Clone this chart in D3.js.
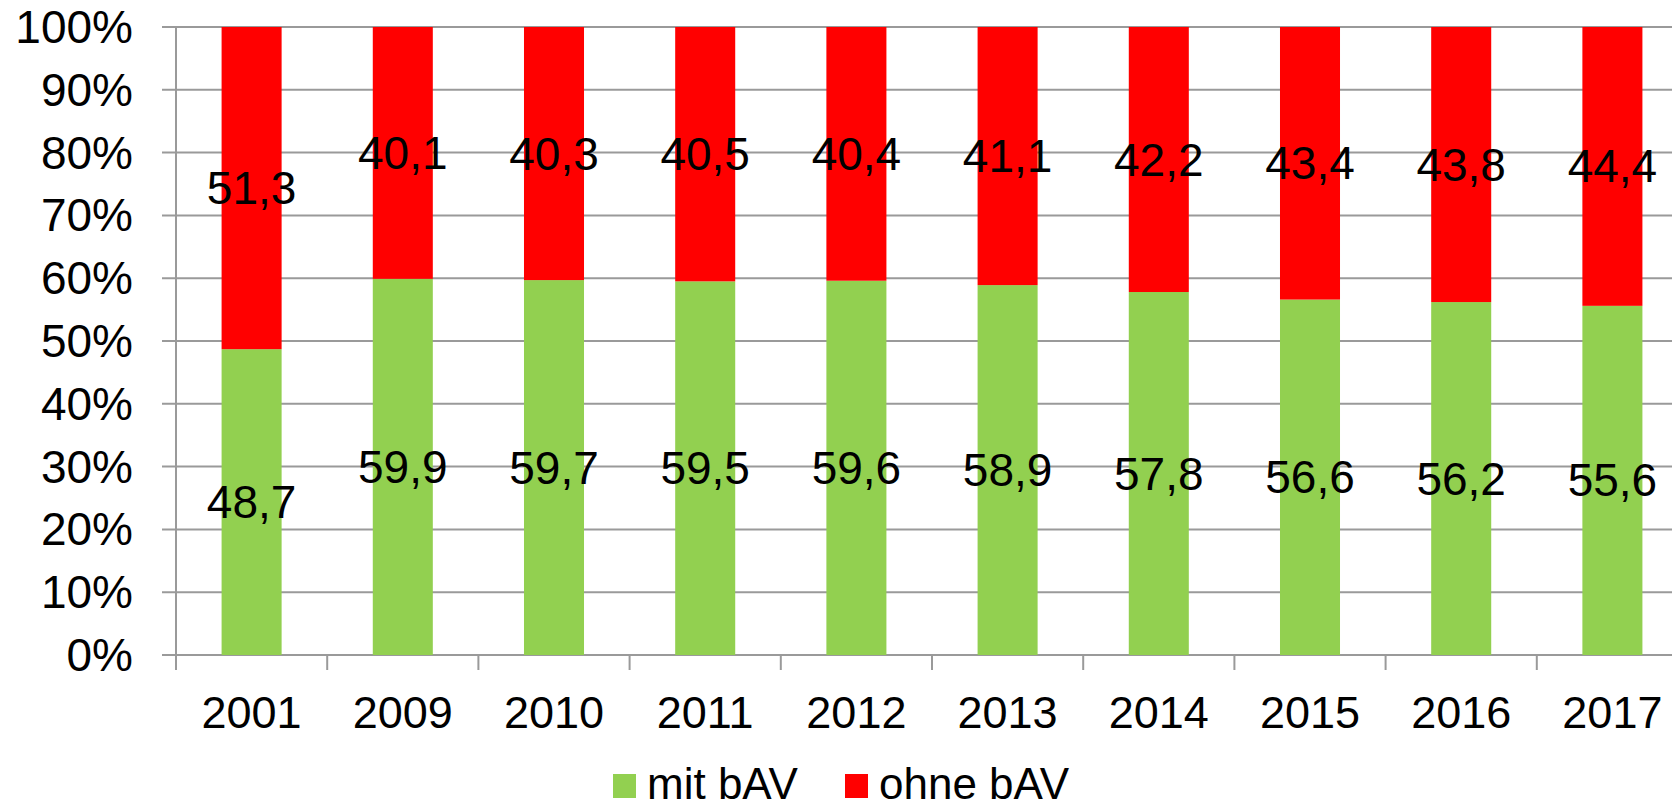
<!DOCTYPE html>
<html>
<head>
<meta charset="utf-8">
<script src="https://cdn.jsdelivr.net/npm/d3@7"></script>
<style>
  html, body { margin: 0; padding: 0; background: #fff; overflow: hidden; }
  text { font-family: "Liberation Sans", Arial, sans-serif; fill: #000; }
</style>
</head>
<body>
<svg id="chart" width="1672" height="809"></svg>
<script>
const years = ["2001","2009","2010","2011","2012","2013","2014","2015","2016","2017"];
const mitBAV  = [48.7, 59.9, 59.7, 59.5, 59.6, 58.9, 57.8, 56.6, 56.2, 55.6];
const ohneBAV = [51.3, 40.1, 40.3, 40.5, 40.4, 41.1, 42.2, 43.4, 43.8, 44.4];
const yTicks = [0, 10, 20, 30, 40, 50, 60, 70, 80, 90, 100];
const seriesNames = ["mit bAV", "ohne bAV"];
const colors = ["#92D050", "#FF0000"];

const svg = d3.select("#chart");
const pLeft = 176, pRight = 1688, pTop = 27, pBottom = 655;

const x = d3.scaleBand().domain(years).range([pLeft, pRight])
  .paddingInner(0.603).paddingOuter(0.3015);
const y = d3.scaleLinear().domain([0, 100]).range([pBottom, pTop]);

// gridlines
svg.append("g").selectAll("line").data(yTicks).join("line")
  .attr("x1", pLeft - 14).attr("x2", 1672)
  .attr("y1", d => y(d)).attr("y2", d => y(d))
  .attr("stroke", "#9a9a9a").attr("stroke-width", 2);

// y axis line
svg.append("line").attr("x1", pLeft).attr("x2", pLeft)
  .attr("y1", pTop).attr("y2", pBottom + 15)
  .attr("stroke", "#9a9a9a").attr("stroke-width", 2);

// x tick marks at band boundaries
const step = x.step();
const boundaries = years.map((d, i) => pLeft + (i + 1) * step);
svg.append("g").selectAll("line").data(boundaries).join("line")
  .attr("x1", d => d).attr("x2", d => d)
  .attr("y1", pBottom).attr("y2", pBottom + 15)
  .attr("stroke", "#9a9a9a").attr("stroke-width", 2);

// y tick labels
svg.append("g").selectAll("text").data(yTicks).join("text")
  .attr("x", 133).attr("y", d => y(d))
  .attr("text-anchor", "end").attr("dominant-baseline", "central")
  .attr("font-size", 46)
  .text(d => d + "%");

// x labels
svg.append("g").selectAll("text").data(years).join("text")
  .attr("x", d => x(d) + x.bandwidth() / 2).attr("y", 728)
  .attr("text-anchor", "middle").attr("font-size", 45)
  .text(d => d);

// bars
const stacks = years.map((yr, i) => ({
  yr, segs: [
    { y0: 0, y1: mitBAV[i], v: mitBAV[i], c: colors[0] },
    { y0: mitBAV[i], y1: mitBAV[i] + ohneBAV[i], v: ohneBAV[i], c: colors[1] }
  ]
}));
const g = svg.append("g");
stacks.forEach(s => {
  s.segs.forEach(seg => {
    g.append("rect")
      .attr("x", x(s.yr)).attr("width", x.bandwidth())
      .attr("y", y(seg.y1)).attr("height", y(seg.y0) - y(seg.y1))
      .attr("fill", seg.c);
  });
});
stacks.forEach(s => {
  s.segs.forEach(seg => {
    g.append("text")
      .attr("x", x(s.yr) + x.bandwidth() / 2)
      .attr("y", y((seg.y0 + seg.y1) / 2))
      .attr("text-anchor", "middle").attr("dominant-baseline", "central")
      .attr("font-size", 46)
      .text(seg.v.toFixed(1).replace(".", ","));
  });
});

// legend
const legend = svg.append("g");
const legX = [613, 845];
seriesNames.forEach((n, i) => {
  legend.append("rect").attr("x", legX[i]).attr("y", 774)
    .attr("width", 23).attr("height", 24).attr("fill", colors[i]);
  legend.append("text").attr("x", legX[i] + 34).attr("y", 799)
    .attr("font-size", 44).text(n);
});
</script>
</body>
</html>
